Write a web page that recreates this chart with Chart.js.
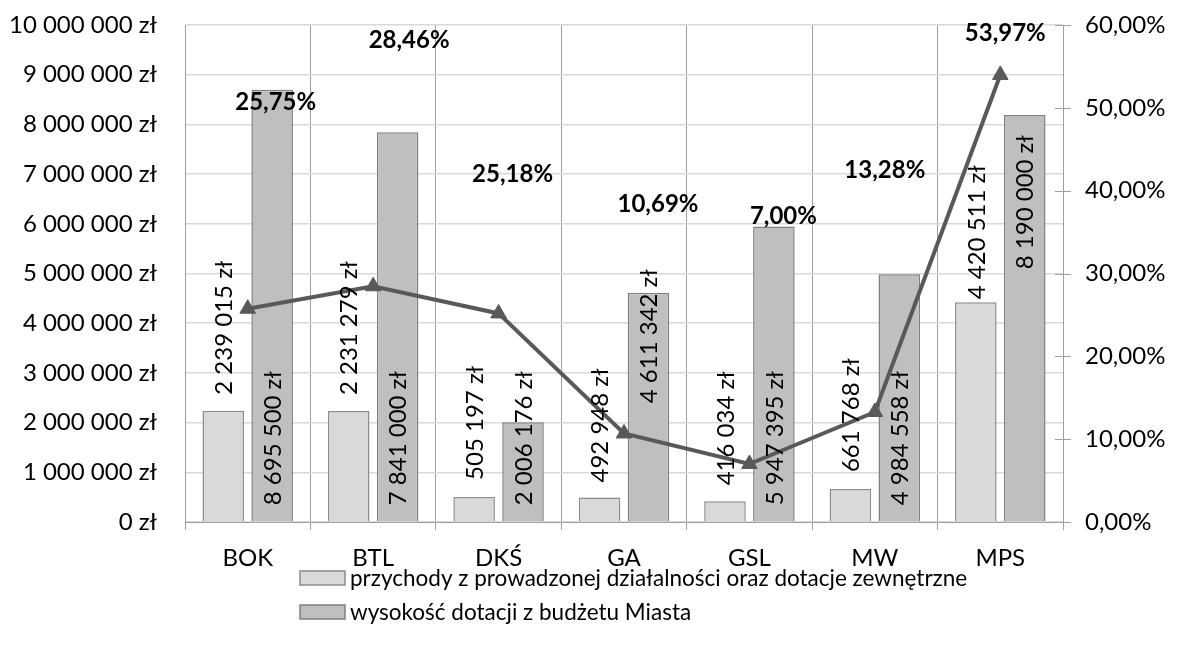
<!DOCTYPE html>
<html lang="pl">
<head>
<meta charset="utf-8">
<title>Dotacje</title>
<script src="https://cdn.jsdelivr.net/npm/chart.js@4.4.1/dist/chart.umd.min.js"></script>
<style>
    body { margin: 0; background: #fff; }
    #wrap { width: 1179px; height: 645px; }
</style>
</head>
<body>
<div id="wrap"><canvas id="chart" width="1179" height="645"></canvas></div>
<script>
// dane wykresu
const kategorie = ['BOK', 'BTL', 'DKŚ', 'GA', 'GSL', 'MW', 'MPS'];
const przychody = [2239015, 2231279, 505197, 492948, 416034, 661768, 4420511];
const dotacje = [8695500, 7841000, 2006176, 4611342, 5947395, 4984558, 8190000];
const udzial = [25.75, 28.46, 25.18, 10.69, 7.00, 13.28, 53.97];

const etykietaPrzychody = 'przychody z prowadzonej działalności oraz dotacje zewnętrzne';
const etykietaDotacje = 'wysokość dotacji z budżetu Miasta';

const FONT = 'Lato';

function formatZl(v) {
    return String(Math.round(v)).replace(/\B(?=(\d{3})+(?!\d))/g, ' ') + ' zł';
}
function formatProc(v) {
    return v.toFixed(2).replace('.', ',') + '%';
}

// przesunięcia etykiet (ręcznie ułożone jak w oryginale)
const przesunieciaProc = [[28, -206], [36, -246], [14, -139], [34, -229], [34, -248], [10, -242], [5, -42]];
const odstepPrzychody = [16, 16, 17, 15, 16, 17, 3];
const podniesienieDotacje = [0, 0, 0, 102, 0, 0, 236];

const etykietyPlugin = {
    id: 'etykiety',
    afterDatasetsDraw(chart) {
        const ctx = chart.ctx;
        ctx.save();
        // etykiety słupków, obrócone
        ctx.font = '24px ' + FONT;
        ctx.fillStyle = '#000';
        ctx.textBaseline = 'middle';
        ctx.textAlign = 'left';
        chart.getDatasetMeta(1).data.forEach(function (bar, i) {
            ctx.save();
            ctx.translate(bar.x, bar.y - odstepPrzychody[i]);
            ctx.rotate(-Math.PI / 2);
            ctx.fillText(formatZl(przychody[i]), 0, 1);
            ctx.restore();
        });
        chart.getDatasetMeta(2).data.forEach(function (bar, i) {
            ctx.save();
            ctx.translate(bar.x, bar.base - 16 - podniesienieDotacje[i]);
            ctx.rotate(-Math.PI / 2);
            ctx.fillText(formatZl(dotacje[i]), 0, 1);
            ctx.restore();
        });
        // etykiety procentowe
        ctx.font = 'bold 24px ' + FONT;
        ctx.textAlign = 'center';
        chart.getDatasetMeta(0).data.forEach(function (pt, i) {
            ctx.fillText(formatProc(udzial[i]), pt.x + przesunieciaProc[i][0], pt.y + przesunieciaProc[i][1]);
        });
        ctx.restore();
    },
    afterDraw(chart) {
        const ctx = chart.ctx;
        ctx.save();
        // znaczniki prawej osi (po obu stronach linii osi)
        const y1 = chart.scales.y1;
        ctx.strokeStyle = '#a0a0a0';
        ctx.lineWidth = 1;
        y1.ticks.forEach(function (t) {
            const py = Math.round(y1.getPixelForValue(t.value)) + 0.5;
            ctx.beginPath();
            ctx.moveTo(y1.left - 8, py);
            ctx.lineTo(y1.left + 8, py);
            ctx.stroke();
        });
        // legenda w dwóch wierszach
        const wiersze = [chart.data.datasets[1], chart.data.datasets[2]];
        ctx.font = '22.5px ' + FONT;
        ctx.textBaseline = 'middle';
        ctx.textAlign = 'left';
        wiersze.forEach(function (ds, i) {
            const y = 578 + i * 34;
            ctx.fillStyle = ds.backgroundColor;
            ctx.fillRect(300, y - 7, 45, 14);
            ctx.strokeStyle = ds.borderColor;
            ctx.lineWidth = 1.5;
            ctx.strokeRect(300, y - 7, 45, 14);
            ctx.fillStyle = '#000';
            ctx.fillText(ds.label, 350, y + 1);
        });
        ctx.restore();
    }
};

const ctx = document.getElementById('chart').getContext('2d');
const chart = new Chart(ctx, {
    type: 'bar',
    data: {
        labels: kategorie,
        datasets: [
            {
                type: 'line',
                label: 'udział',
                data: udzial,
                yAxisID: 'y1',
                borderColor: '#595959',
                backgroundColor: '#595959',
                borderWidth: 4,
                pointStyle: 'triangle',
                pointRadius: 9,
                pointBorderWidth: 1,
                tension: 0,
                order: 0
            },
            {
                label: etykietaPrzychody,
                data: przychody,
                yAxisID: 'y',
                backgroundColor: '#d9d9d9',
                borderColor: '#8c8c8c',
                borderWidth: 1.5,
                categoryPercentage: 0.78,
                barPercentage: 0.85,
                order: 1
            },
            {
                label: etykietaDotacje,
                data: dotacje,
                yAxisID: 'y',
                backgroundColor: '#bfbfbf',
                borderColor: '#808080',
                borderWidth: 1.5,
                categoryPercentage: 0.78,
                barPercentage: 0.85,
                order: 1
            }
        ]
    },
    options: {
        responsive: false,
        animation: false,
        layout: { padding: { top: 25, right: 0, left: 0, bottom: 0 } },
        plugins: {
            legend: { display: false },
            tooltip: { enabled: false }
        },
        scales: {
            x: {
                offset: true,
                grid: { offset: true, color: '#a0a0a0', tickLength: 8 },
                border: { color: '#a0a0a0' },
                ticks: { font: { family: FONT, size: 24 }, color: '#000', padding: 14 },
                afterFit: function (scale) { scale.height = 123; }
            },
            y: {
                position: 'left',
                min: 0,
                max: 10000000,
                ticks: {
                    stepSize: 1000000,
                    font: { family: FONT, size: 24 },
                    color: '#000',
                    padding: 4,
                    callback: function (v) { return formatZl(v); }
                },
                grid: { color: '#d9d9d9', lineWidth: 1.5, tickLength: 24, tickColor: 'rgba(0,0,0,0)' },
                border: { color: '#a0a0a0' },
                afterFit: function (scale) { scale.width = 185; }
            },
            y1: {
                position: 'right',
                min: 0,
                max: 60,
                ticks: {
                    stepSize: 10,
                    font: { family: FONT, size: 24 },
                    color: '#000',
                    padding: 4,
                    callback: function (v) { return formatProc(v); }
                },
                grid: { drawOnChartArea: false, tickLength: 18, tickColor: 'rgba(0,0,0,0)' },
                border: { color: '#a0a0a0' },
                afterFit: function (scale) { scale.width = 116; }
            }
        }
    },
    plugins: [etykietyPlugin]
});
</script>
</body>
</html>
